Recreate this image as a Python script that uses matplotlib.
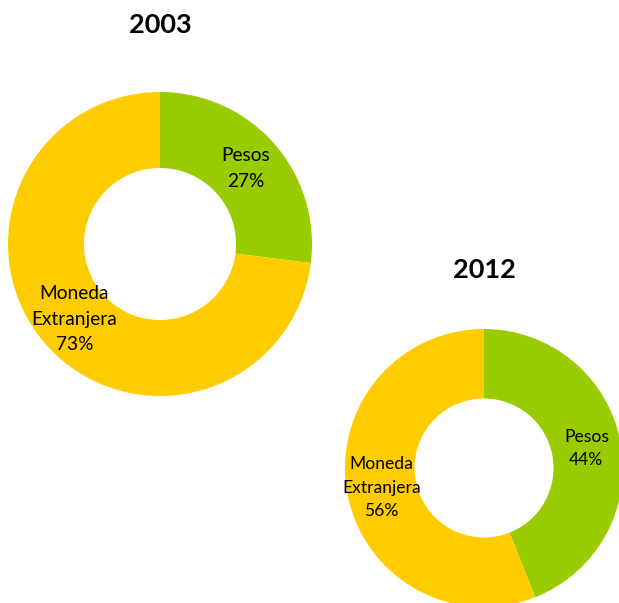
import matplotlib.pyplot as plt

plt.rcParams['font.family'] = ['Lato', 'DejaVu Sans']

# data
categories = ['Pesos', 'Moneda\nExtranjera']
years = ['2003', '2012']
shares_2003 = [27, 73]
shares_2012 = [44, 56]
colors = ['#99CC00', '#FFCC00']

W, H = 619, 603
fig = plt.figure(figsize=(W / 100, H / 100), dpi=100)


def donut(cx, cy, r, shares, title, fs, title_y):
    # axes box in pixels, radius 1 of the pie -> r pixels
    ax = fig.add_axes([(cx - r) / W, (H - cy - r) / H, 2 * r / W, 2 * r / H])
    labels = [f'{c}\n{v}%' for c, v in zip(categories, shares)]
    wedges, texts = ax.pie(shares, colors=colors, startangle=90, counterclock=False,
                           labels=labels, labeldistance=0.75,
                           wedgeprops=dict(width=0.5, linewidth=0))
    for t in texts:
        t.set_ha('center')
        t.set_va('center')
        t.set_fontsize(fs)
        t.set_linespacing(1.6)
        t.set_color('black')
    ax.set_xlim(-1, 1)
    ax.set_ylim(-1, 1)
    ax.set_aspect('equal')
    ax.axis('off')
    fig.text(cx / W, 1 - title_y / H, title, ha='center', va='center',
             fontsize=19.5, fontweight='bold')


donut(160, 244, 152, shares_2003, years[0], 13.8, 25)
donut(484, 468, 139, shares_2012, years[1], 12.6, 270)

fig.savefig('out.png', dpi=100)
